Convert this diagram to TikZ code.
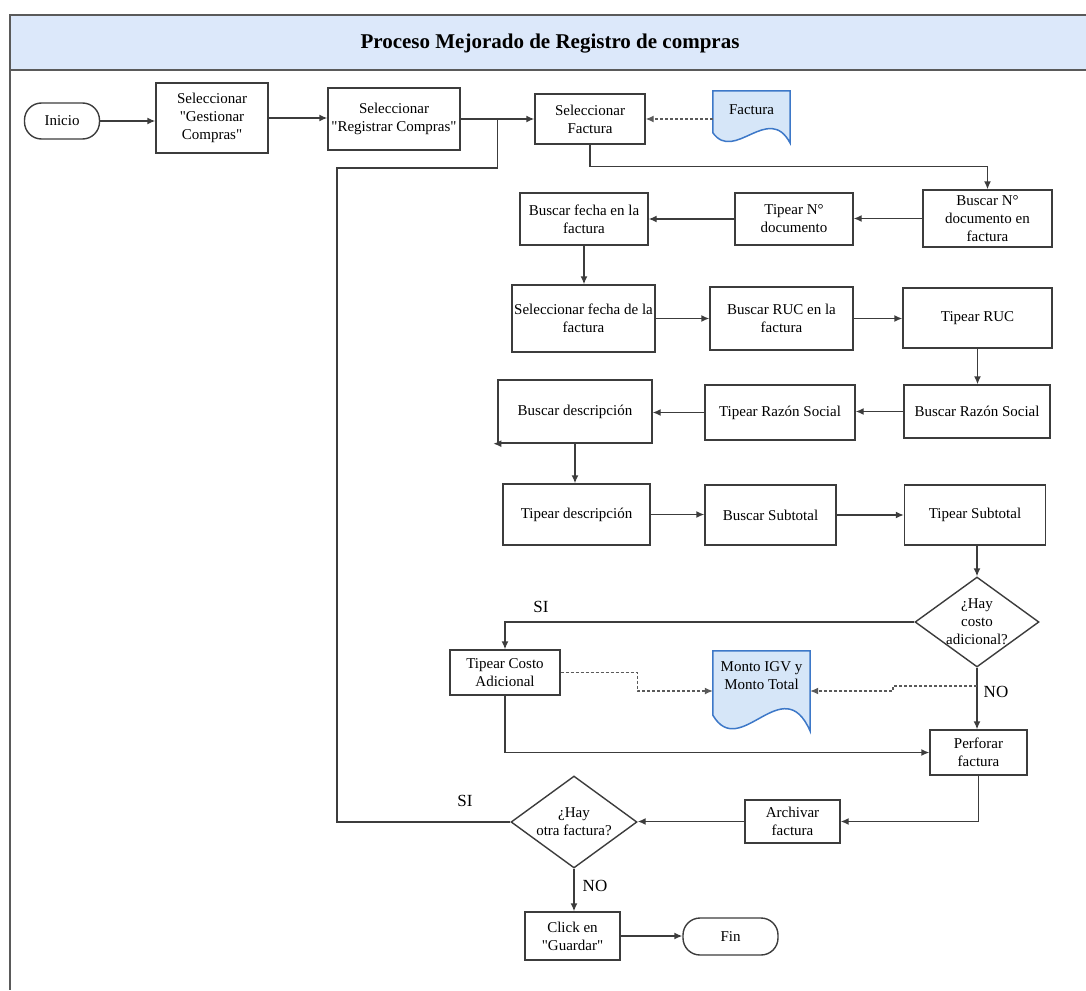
\documentclass[tikz,border=0pt]{standalone}
\usepackage{fontspec}
\setmainfont{Liberation Serif}[Ligatures=TeXOff]
\usetikzlibrary{shapes.geometric,arrows.meta,calc}

\definecolor{hdrfill}{HTML}{DCE8FA}
\definecolor{frameline}{HTML}{5A5A5A}
\definecolor{boxline}{HTML}{3C3C3C}
\definecolor{docfill}{HTML}{D6E6F8}
\definecolor{docline}{HTML}{3D78C8}

\newcommand\flowfont{\fontsize{15}{18}\selectfont}
\newcommand\tagfont{\fontsize{17}{19}\selectfont}

% document symbol drawn on the frame of an empty node
\newcommand\docsymbol[1]{%
  \filldraw[docline, fill=docfill, line width=1.5pt]
    let \p1=(#1.north west), \p2=(#1.south east) in
    (\x1,\y1) -- (\x2,\y1) -- (\x2,\y2)
    .. controls ({\x1+0.72*(\x2-\x1)},{\y1+0.22*(\y2-\y1)})
             and ({\x1+0.28*(\x2-\x1)},{\y1+1.38*(\y2-\y1)}) ..
    (\x1,{\y1+0.8*(\y2-\y1)}) -- cycle;}

\begin{document}
\begin{tikzpicture}[x=1pt,y=-1pt,
  box/.style={draw=boxline, line width=1.4pt, fill=white, align=center,
    inner sep=1pt, font=\flowfont},
  term/.style={box, rounded corners=17pt},
  dia/.style={diamond, draw=boxline, line width=1.4pt, fill=white,
    inner sep=0pt, aspect=1},
  slot/.style={inner sep=0pt},
  arr/.style={draw=boxline, line width=1.4pt, -{Latex[length=8pt,width=7pt]}},
  link/.style={draw=boxline, line width=1.4pt},
  darr/.style={draw=frameline, line width=1.2pt, dash pattern=on 3pt off 2pt,
    -{Latex[length=8pt,width=7pt]}},
  tag/.style={font=\tagfont, inner sep=0pt}]

\useasboundingbox (0,0) rectangle (1086,990);

% frame and title band
\fill[hdrfill] (10,15) rectangle (1086,70);
\draw[frameline, line width=1.5pt] (1086,15) -- (10,15) -- (10,990);
\draw[frameline, line width=1.5pt] (10,70) -- (1086,70);
\node[font=\bfseries\fontsize{21}{25}\selectfont] (title) at (550,44)
  {Proceso Mejorado de Registro de compras};

% process steps
\node[term, minimum width=75, minimum height=36] (inicio) at (62,121) {Inicio};
\node[box, minimum width=112, minimum height=70] (gest) at (212,118)
  {Seleccionar\\"Gestionar\\Compras"};
\node[box, minimum width=132, minimum height=62] (reg) at (394,119)
  {Seleccionar\\"Registrar Compras"};
\node[box, minimum width=110, minimum height=50] (self) at (590,119)
  {Seleccionar\\Factura};

\node[slot, minimum width=77, minimum height=52] (fdoc) at (751.5,117) {};
\docsymbol{fdoc}
\node[font=\flowfont] (fdoctext) at (751.5,110) {Factura};

\node[box, minimum width=129, minimum height=57] (bnum) at (987.5,218.5)
  {Buscar N°\\documento en\\factura};
\node[box, minimum width=118, minimum height=52] (tnum) at (794,219)
  {Tipear N°\\documento};
\node[box, minimum width=128, minimum height=52] (bfecha) at (584,219)
  {Buscar fecha en la\\factura};

\node[box, minimum width=143, minimum height=67] (sfecha) at (583.5,318.5)
  {Seleccionar fecha de la\\factura};
\node[box, minimum width=143, minimum height=63] (bruc) at (781.5,318.5)
  {Buscar RUC en la\\factura};
\node[box, minimum width=149, minimum height=60] (truc) at (977.5,318)
  {Tipear RUC};

\node[box, minimum width=146, minimum height=53] (brs) at (977,411.5)
  {Buscar Razón Social};
\node[box, minimum width=150, minimum height=55] (trs) at (780,412.5)
  {Tipear Razón Social};
\node[box, minimum width=154, minimum height=63] (bdesc) at (575,411.5)
  {Buscar descripción};

\node[box, minimum width=147, minimum height=61] (tdesc) at (576.5,514.5)
  {Tipear descripción};
\node[box, minimum width=131, minimum height=60] (bsub) at (770.5,515)
  {Buscar Subtotal};
\node[box, minimum width=141, minimum height=60] (tsub) at (975,515)
  {Tipear Subtotal};

\node[dia, minimum width=124, minimum height=90] (q1) at (977,622) {};
\node[font=\flowfont, align=center, inner sep=0pt] (q1text) at (977,622)
  {¿Hay\\costo\\adicional?};

\node[box, minimum width=110, minimum height=45] (tcosto) at (505,672.5)
  {Tipear Costo\\Adicional};

\node[slot, minimum width=97, minimum height=80] (mdoc) at (761.5,691) {};
\docsymbol{mdoc}
\node[font=\flowfont, align=center] (mdoctext) at (761.5,676)
  {Monto IGV y\\Monto Total};

\node[box, minimum width=97, minimum height=45] (perf) at (978.5,752.5)
  {Perforar\\factura};
\node[box, minimum width=95, minimum height=43] (arch) at (792.5,821.5)
  {Archivar\\factura};

\node[dia, minimum width=126, minimum height=92] (q2) at (574,822) {};
\node[font=\flowfont, align=center, inner sep=0pt] (q2text) at (574,822)
  {¿Hay\\otra factura?};

\node[box, minimum width=95, minimum height=48] (click) at (572.5,936)
  {Click en\\"Guardar"};
\node[term, minimum width=95, minimum height=37] (fin) at (730.5,936.5) {Fin};

% auxiliary points
\coordinate (join) at ($(reg.east)!0.5!(self.west)$);
\coordinate (nojoin) at (977,686);

% main flow
\draw[arr] (inicio.east) -- (inicio.east -| gest.west);
\draw[arr] (gest.east) -- (gest.east -| reg.west);
\draw[arr] (reg.east) -- (self.west);
\draw[darr] (self.east -| fdoc.west) -- (self.east);
\draw[arr] (self.south) -- ++(0,22) -| (bnum.north);
\draw[arr] (bnum.west) -- (bnum.west -| tnum.east);
\draw[arr] (tnum.west) -- (bfecha.east);
\draw[arr] (bfecha.south) -- (bfecha.south |- sfecha.north);
\draw[arr] (sfecha.east) -- (sfecha.east -| bruc.west);
\draw[arr] (bruc.east) -- (bruc.east -| truc.west);
\draw[arr] (truc.south) -- (truc.south |- brs.north);
\draw[arr] (brs.west) -- (brs.west -| trs.east);
\draw[arr] (trs.west) -- (trs.west -| bdesc.east);
\draw[arr] (bdesc.south west) -- ++(-4,0);
\draw[arr] (bdesc.south) -- (bdesc.south |- tdesc.north);
\draw[arr] (tdesc.east) -- (tdesc.east -| bsub.west);
\draw[arr] (bsub.east) -- (bsub.east -| tsub.west);
\draw[arr] (q1.north |- tsub.south) -- (q1.north);

% additional cost decision
\draw[arr] (q1.west) -| (tcosto.north);
\node[tag] (si1) at (541,607) {SI};
\draw[arr] (q1.south) -- (q1.south |- perf.north);
\node[tag] (no1) at (996,692) {NO};
\draw[darr] (tcosto.east) -- ++(77,0) |- (mdoc.west);
\draw[darr] (nojoin) -- (893,686) -- (893,691) -- (mdoc.east);
\draw[arr] (tcosto.south) |- (perf.west);

% closing steps
\draw[arr] (perf.south) |- (arch.east);
\draw[arr] (arch.west) -- (arch.west -| q2.east);
\draw[link] (q2.west) -- (337,822) -- (337,168) -- (join |- 0,168) -- (join);
\node[tag] (si2) at (465,801) {SI};
\draw[arr] (q2.south) -- (q2.south |- click.north);
\node[tag] (no2) at (595,886) {NO};
\draw[arr] (click.east) -- (click.east -| fin.west);

\end{tikzpicture}
\end{document}
